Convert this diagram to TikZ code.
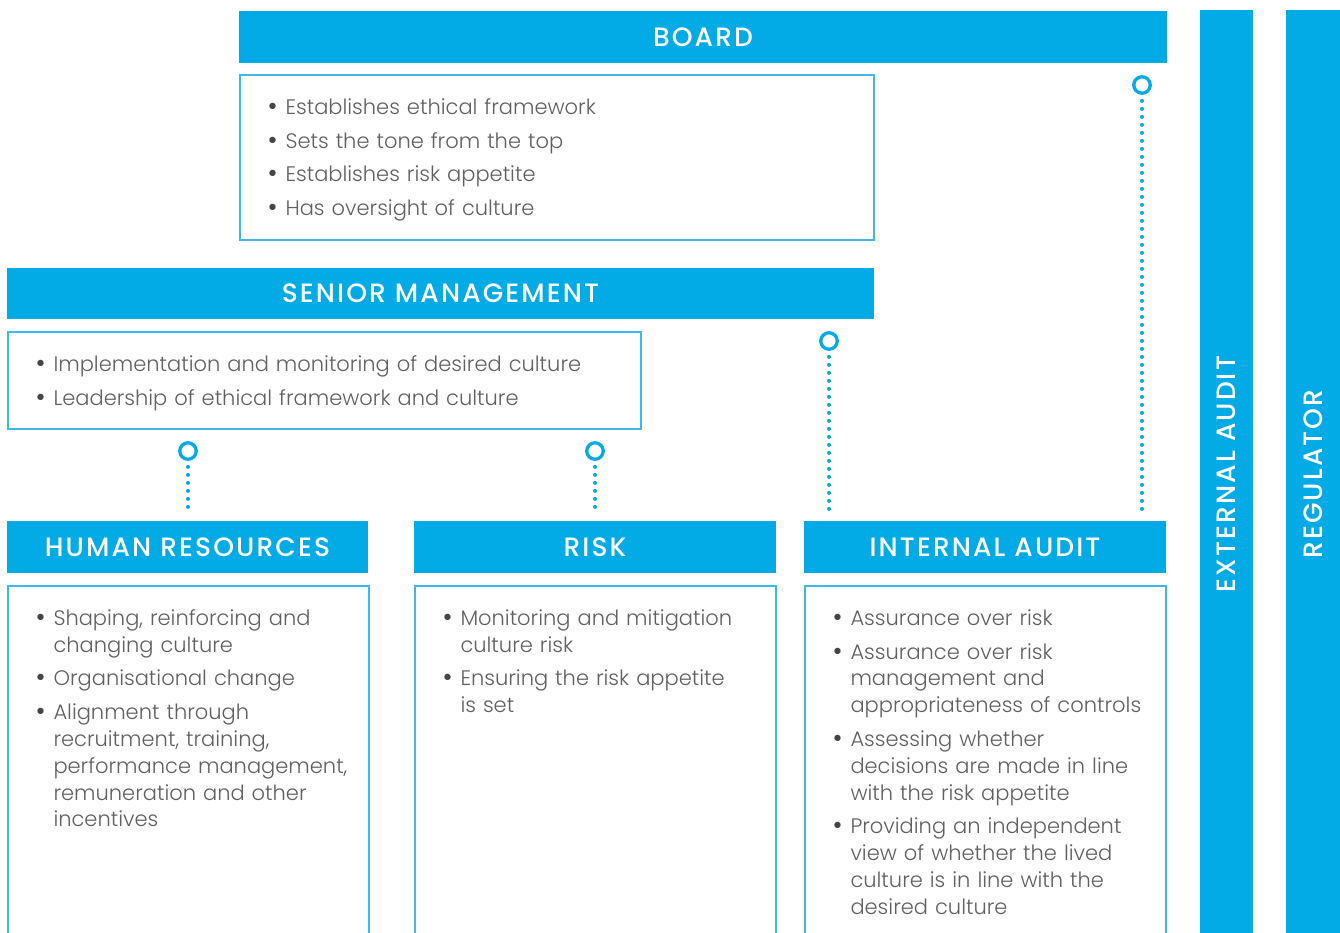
\documentclass[tikz,border=0pt]{standalone}
\usepackage{fontspec}
\setmainfont{Poppins Light}
\newfontfamily\headfam{Poppins Medium}[LetterSpace=8]
\usepackage{enumitem}
\usetikzlibrary{positioning,calc}

\definecolor{cyanbar}{RGB}{2,171,230}
\definecolor{cyanline}{RGB}{62,184,232}
\definecolor{bodygrey}{RGB}{96,96,96}
\definecolor{bulletgrey}{RGB}{70,70,70}

\newcommand{\bodyfont}{\fontsize{21}{26.8}\selectfont}
\newcommand{\headfont}{\headfam\fontsize{26.5}{30}\selectfont}
\newlist{pointlist}{itemize}{1}
\setlist[pointlist]{label=\textcolor{bulletgrey}{\raisebox{-0.05em}{\scalebox{1.3}{\textbullet}}}, leftmargin=18pt, labelwidth=18pt, labelsep=0pt, align=left, topsep=0pt, itemsep=7pt, parsep=0pt, partopsep=0pt}

\begin{document}
\begin{tikzpicture}[x=1pt, y=-1pt,
    headbar/.style={shape=rectangle, fill=cyanbar, text=white, inner sep=0pt, font=\headfont},
    textbox/.style={shape=rectangle, draw=cyanline, line width=1.4pt, inner sep=0pt},
    points/.style={anchor=north west, inner sep=0pt, text width=#1, text=bodygrey, font=\bodyfont, align=left},
    ring/.style={shape=circle, draw=cyanbar, line width=3.3pt, inner sep=0pt, minimum size=16.5pt},
    dotline/.style={draw=cyanbar, line width=4pt, line cap=round, dash pattern=on 0pt off 8pt}]
    \useasboundingbox (0,0) rectangle (1340,932);

    % board
    \node[headbar, minimum width=928, minimum height=52] (board) at (703,37) {BOARD};
    \node[textbox, minimum width=634, minimum height=165] (boardbox) at (557,157.5) {};
    \node[points=580] (boardtext) at ($(boardbox.north west)+(28,13)$) {\begin{pointlist}
        \item Establishes ethical framework
        \item Sets the tone from the top
        \item Establishes risk appetite
        \item Has oversight of culture
    \end{pointlist}};

    % senior management
    \node[headbar, minimum width=867, minimum height=51] (senior) at (440.5,293.5) {SENIOR MANAGEMENT};
    \node[textbox, minimum width=633, minimum height=97] (seniorbox) at (324.5,380.5) {};
    \node[points=590] (seniortext) at ($(seniorbox.north west)+(28,13)$) {\begin{pointlist}
        \item Implementation and monitoring of desired culture
        \item Leadership of ethical framework and culture
    \end{pointlist}};

    % functions
    \node[headbar, minimum width=361, minimum height=52] (hr) at (187.5,547) {HUMAN RESOURCES};
    \node[textbox, minimum width=361, minimum height=352] (hrbox) at (188.5,762) {};
    \node[points=330] (hrtext) at ($(hrbox.north west)+(28,13)$) {\begin{pointlist}
        \item Shaping, reinforcing and\newline changing culture
        \item Organisational change
        \item Alignment through\newline recruitment, training,\newline performance management,\newline remuneration and other\newline incentives
    \end{pointlist}};

    \node[headbar, minimum width=362, minimum height=52] (risk) at (595,547) {RISK};
    \node[textbox, minimum width=361, minimum height=352] (riskbox) at (595.5,762) {};
    \node[points=330] (risktext) at ($(riskbox.north west)+(28,13)$) {\begin{pointlist}
        \item Monitoring and mitigation\newline culture risk
        \item Ensuring the risk appetite\newline is set
    \end{pointlist}};

    \node[headbar, minimum width=362, minimum height=52] (audit) at (985,547) {INTERNAL AUDIT};
    \node[textbox, minimum width=361, minimum height=352] (auditbox) at (985.5,762) {};
    \node[points=330] (audittext) at ($(auditbox.north west)+(28,13)$) {\begin{pointlist}
        \item Assurance over risk
        \item Assurance over risk\newline management and\newline appropriateness of controls
        \item Assessing whether\newline decisions are made in line\newline with the risk appetite
        \item Providing an independent\newline view of whether the lived\newline culture is in line with the\newline desired culture
    \end{pointlist}};

    % outside bodies
    \node[headbar, rotate=90, minimum width=928, minimum height=53] (external) at (1226.5,474) {EXTERNAL AUDIT};
    \node[headbar, rotate=90, minimum width=928, minimum height=54] (regulator) at (1313,474) {REGULATOR};

    % rings
    \node[ring] (hrring) at (188,451) {};
    \node[ring] (riskring) at (595,451) {};
    \node[ring] (auditring) at (829,341) {};
    \node[ring] (boardring) at (1142,85) {};

    \draw[dotline, shorten <=6pt, shorten >=10pt] (hrring) -- (hrring |- hr.north);
    \draw[dotline, shorten <=6pt, shorten >=10pt] (riskring) -- (riskring |- risk.north);
    \draw[dotline, shorten <=6pt, shorten >=10pt] (auditring) -- (auditring |- audit.north);
    \draw[dotline, shorten <=6pt, shorten >=10pt] (boardring) -- (boardring |- audit.north);
\end{tikzpicture}
\end{document}
